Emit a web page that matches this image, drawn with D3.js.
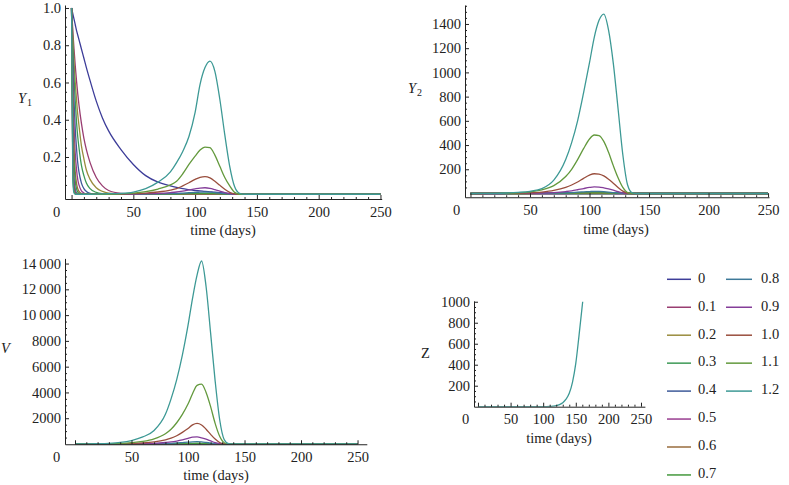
<!DOCTYPE html>
<html><head><meta charset="utf-8">
<script src="https://cdn.jsdelivr.net/npm/d3@7"></script>
</head><body style="margin:0">
<svg id="c" width="789" height="485"></svg>
<script>
// ---------- data ----------
const seriesLabels = ["0","0.1","0.2","0.3","0.4","0.5","0.6","0.7","0.8","0.9","1.0","1.1","1.2"];
const seriesColors = ["#3d3d99","#993d71","#998c3d","#3d9956","#3d5a99","#993d90","#996d3d","#44993d","#3d7999","#843d99","#994e3d","#63993d","#3d9995"];
const xTickValues = [0,50,100,150,200,250];
const y1TickValues = [0.2,0.4,0.6,0.8,1.0];
const y2TickValues = [200,400,600,800,1000,1200,1400];
const vTickValues = [2000,4000,6000,8000,10000,12000,14000];
const zTickValues = [200,400,600,800,1000];

// time grid for Y1
const tY1 = [0,1,2,3,4,5,6,8,10,12,15,20,25,30,40,50,60,70,80,85,90,95,100,104,108,112,116,120,124,128,132,136,140,150,250];
const Y1 = [
 [1,0.97,0.94,0.91,0.88,0.855,0.83,0.78,0.73,0.68,0.61,0.5,0.41,0.34, 0.24,0.16,0.1,0.065,0.045,0.037,0.03,0.025,0.02,0.018,0.015,0.013,0.011,0.008,0.006,0.004,0.003,0.002,0.001,0,0],
 [1,0.88,0.78,0.69,0.61,0.54,0.48,0.38,0.3,0.24,0.17,0.09,0.045,0.02, 0.005,0.002,0.001,0.001,0.001,0.001,0.001,0.001,0.001,0.001,0.001,0.001,0.001,0.001,0,0,0,0,0,0,0],
 [1,0.85,0.71,0.6,0.51,0.43,0.37,0.26,0.19,0.13,0.08,0.035,0.015,0.006, 0.001,0,0,0,0,0,0,0,0,0,0,0,0,0,0,0,0,0,0,0,0],
 [1,0.79,0.63,0.5,0.39,0.31,0.25,0.155,0.1,0.06,0.03,0.01,0.003,0.001, 0,0,0,0,0,0,0,0,0,0,0,0,0,0,0,0,0,0,0,0,0],
 [1,0.7,0.5,0.35,0.25,0.17,0.12,0.06,0.03,0.015,0.005,0.001,0,0, 0,0,0,0,0,0,0,0,0,0,0,0,0,0,0,0,0,0,0,0,0],
 [1,0.6,0.37,0.22,0.135,0.08,0.05,0.018,0.007,0.002,0,0,0,0, 0,0,0,0,0,0,0,0,0,0,0,0,0,0,0,0,0,0,0,0,0],
 [1,0.5,0.25,0.12,0.06,0.03,0.015,0.004,0.001,0,0,0,0,0, 0,0,0,0,0,0,0,0.001,0.001,0.001,0.001,0.001,0.001,0.001,0,0,0,0,0,0,0],
 [1,0.41,0.17,0.07,0.03,0.012,0.005,0.001,0,0,0,0,0,0, 0,0,0,0.001,0.001,0.001,0.002,0.003,0.003,0.004,0.004,0.004,0.003,0.002,0.001,0.001,0,0,0,0,0],
 [1,0.3,0.09,0.03,0.008,0.003,0.001,0,0,0,0,0,0,0, 0,0,0.001,0.002,0.003,0.004,0.006,0.008,0.01,0.011,0.012,0.011,0.009,0.006,0.003,0.001,0,0,0,0,0],
 [1,0.22,0.05,0.012,0.003,0.001,0,0,0,0,0,0,0,0, 0,0.001,0.003,0.005,0.009,0.012,0.017,0.023,0.029,0.033,0.035,0.032,0.025,0.017,0.009,0.003,0,0,0,0,0],
 [1,0.17,0.03,0.005,0.001,0,0,0,0,0,0,0,0,0, 0.001,0.003,0.006,0.012,0.022,0.03,0.045,0.062,0.08,0.091,0.095,0.088,0.07,0.048,0.027,0.01,0.002,0,0,0,0],
 [1,0.12,0.015,0.002,0,0,0,0,0,0,0,0,0,0, 0.002,0.006,0.014,0.028,0.05,0.07,0.11,0.16,0.205,0.237,0.253,0.25,0.21,0.15,0.09,0.045,0.01,0,0,0,0],
 [1,0.08,0.007,0.001,0,0,0,0,0,0,0,0.001,0.002,0.003, 0.005,0.012,0.03,0.065,0.12,0.17,0.23,0.31,0.44,0.59,0.68,0.715,0.66,0.51,0.32,0.15,0.04,0.005,0,0,0]
];

// time grid for Y2 and V
const tLate = [0,10,20,30,40,50,60,70,80,85,90,95,100,104,108,112,116,120,124,128,132,136,140,150,250];
const Y2 = [
 [0,0,0,0,0,0,0,0,0,0,0,0,0,0,0,0,0,0,0,0,0,0,0,0,0],
 [0,0,0,0,0,0,0,0,0,0,0,0,0,0,0,0,0,0,0,0,0,0,0,0,0],
 [0,0,0,0,0,0,0,0,0,0,0,0,0,0,0,0,0,0,0,0,0,0,0,0,0],
 [0,0,0,0,0,0,0,0,0,0,0,0,0,0,0,0,0,0,0,0,0,0,0,0,0],
 [0,0,0,0,0,0,0,0,0,0,0,0,0,0,0,0,0,0,0,0,0,0,0,0,0],
 [0,0,0,0,0,0,0,0,0.1,0.2,0.3,0.4,0.5,0.5,0.5,0.4,0.3,0.2,0.1,0,0,0,0,0,0],
 [0,0,0,0,0,0.1,0.2,0.4,0.7,0.9,1.2,1.5,1.8,1.9,1.9,1.7,1.3,0.9,0.5,0.2,0,0,0,0,0],
 [0,0,0,0,0.1,0.2,0.5,1,2,2.6,3.5,4.5,5.3,5.8,5.6,5,4,2.7,1.5,0.5,0,0,0,0,0],
 [0,0,0,0.1,0.3,0.7,1.5,3,6,8,11,13.5,16,18,17,15,12,8,5,2,0,0,0,0,0],
 [0,0,0.1,0.3,0.8,2,4,8,16,22,31,41,50,54,53,47,38,27,15,6,1,0,0,0,0],
 [0,0.1,0.4,1,2,5,12,25,50,70,95,125,152,163,160,145,118,85,50,20,3,0,0,0,0],
 [0,0.3,1,2.5,6,13,30,65,140,200,280,370,450,483,478,430,340,230,130,50,8,0,0,0,0],
 [0,0.5,1.5,4,9,18,40,110,280,420,600,830,1080,1290,1430,1482,1350,1075,700,320,70,5,0,0,0]
];
const V = [
 [0,0,0,0,0,0,0,0,0,0,0,0,0,0,0,0,0,0,0,0,0,0,0,0,0],
 [0,0,0,0,0,0,0,0,0,0,0,0,0,0,0,0,0,0,0,0,0,0,0,0,0],
 [0,0,0,0,0,0,0,0,0,0,0,0,0,0,0,0,0,0,0,0,0,0,0,0,0],
 [0,0,0,0,0,0,0,0,0,0,0,0,0,0,0,0,0,0,0,0,0,0,0,0,0],
 [0,0,0,0,0,0,0,0,0,0,0,0,0,0,0,0,0,0,0,0,0,0,0,0,0],
 [0,0,0,0,0,0,0,0,1,1,2,3,4,5,6,5,4,2,1,0,0,0,0,0,0],
 [0,0,0,0,0,1,1,2,4,6,8,11,14,18,20,18,13,8,4,1,0,0,0,0,0],
 [0,0,0,0,1,2,4,7,13,18,26,36,46,56,60,53,40,25,12,3,0,0,0,0,0],
 [0,0,0,1,2,5,10,20,40,55,80,110,140,170,180,160,120,75,35,10,0,0,0,0,0],
 [0,0,1,3,7,15,30,55,115,160,230,320,430,530,550,480,370,240,110,30,2,0,0,0,0],
 [0,1,3,8,18,40,80,160,320,450,640,900,1200,1480,1600,1480,1150,750,380,120,10,0,0,0,0],
 [0,2,8,20,45,100,200,400,800,1150,1650,2300,3100,3900,4550,4650,4000,2900,1600,600,100,0,0,0,0],
 [0,5,20,50,120,270,550,1050,2300,3500,5000,6900,9200,11300,13100,14200,12200,8600,4900,1900,350,20,0,0,0]
];
// Z (all series coincide; the last one drawn is visible)
const tZ = [0,50,100,110,115,120,125,130,135,140,145,150,155,160.6];
const Zvals = [0,0,0,2,5,10,20,38,72,128,235,413,680,1000];

// ---------- drawing ----------
const FONT = '"Liberation Serif"';
const INK = "#222";
const svg = d3.select("#c");
const FS = 14.5;

function range(a,b,s){const r=[];for(let v=a;v<=b+1e-9;v+=s)r.push(+v.toFixed(6));return r;}
function fmtV(v){ if(v>=10000){const s=String(v);return s.slice(0,s.length-3)+"\u2009"+s.slice(-3);} return String(v);}
function styleText(sel){ return sel.style("font-family",FONT).style("font-size",FS+"px").style("fill",INK); }

function panel(cfg){
  const g = svg.append("g");
  const x = d3.scaleLinear().domain(cfg.xd).range(cfg.xr);
  const y = d3.scaleLinear().domain(cfg.yd).range(cfg.yr);
  const id = "clip"+cfg.id;
  svg.append("clipPath").attr("id",id).append("rect")
    .attr("x",cfg.xr[0]).attr("y",cfg.yr[1]).attr("width",cfg.xr[1]-cfg.xr[0]).attr("height",cfg.yr[0]-cfg.yr[1]);
  const line = d3.line().x(d=>x(d[0])).y(d=>y(d[1])).curve(d3.curveMonotoneX);
  const lg = g.append("g").attr("clip-path",`url(#${id})`);
  cfg.series.forEach(s=>{
    lg.append("path").attr("d",line(s.t.map((t,i)=>[t,s.v[i]])))
      .attr("fill","none").attr("stroke",s.c).attr("stroke-width",1.3).attr("stroke-linejoin","round");
  });
  // x axis
  const y0 = cfg.yr[0];
  const xMinor = range(10,250,10).filter(v=>v%50!==0);
  g.append("g").attr("transform",`translate(0,${y0})`)
    .call(d3.axisBottom(x).tickValues(xMinor).tickSizeInner(-2).tickSizeOuter(0).tickFormat(""))
    .call(a=>a.select(".domain").remove());
  const xa = g.append("g").attr("transform",`translate(0,${y0})`)
    .call(d3.axisBottom(x).tickValues(xTickValues).tickSizeInner(-4).tickSizeOuter(0).tickPadding(7.5));
  xa.attr("font-family",null).attr("font-size",null);
  styleText(xa.selectAll("text")).attr("dx",d=>d===0?(cfg.xr[0]-9-x(0)):0);
  // y axis
  const x0 = cfg.xr[0];
  g.append("g").attr("transform",`translate(${x0},0)`)
    .call(d3.axisLeft(y).tickValues(cfg.yMinor).tickSizeInner(-2).tickSizeOuter(0).tickFormat(""))
    .call(a=>a.select(".domain").remove());
  const ya = g.append("g").attr("transform",`translate(${x0},0)`)
    .call(d3.axisLeft(y).tickValues(cfg.yTicks).tickSizeInner(-4).tickSizeOuter(0).tickPadding(4).tickFormat(cfg.fmt));
  ya.attr("font-family",null).attr("font-size",null);
  styleText(ya.selectAll("text"));
  svg.selectAll(".domain").attr("stroke",INK);
  svg.selectAll(".tick line").attr("stroke",INK);
  // labels
  styleText(g.append("text")).attr("x",cfg.xl[0]).attr("y",cfg.xl[1]).attr("text-anchor","middle")
    .attr("dominant-baseline","middle").text("time (days)");
  const yt = styleText(g.append("text")).attr("x",cfg.yl[0]).attr("y",cfg.yl[1])
    .attr("dominant-baseline","middle");
  yt.append("tspan").style("font-style",cfg.italic?"italic":"normal").text(cfg.ylab);
  if(cfg.sub) yt.append("tspan").style("font-size","10px").attr("dy",4).attr("dx",1).text(cfg.sub);
}

const allIdx = d3.range(seriesLabels.length);
panel({id:1, xd:[-5.3,251], xr:[65,381.7], yd:[-0.0255,1.016], yr:[199,5],
  yTicks:y1TickValues, yMinor:range(0.05,1.0,0.05).filter(v=>Math.abs(v*5-Math.round(v*5))>1e-6), fmt:d3.format(".1f"),
  series: allIdx.map(i=>({t:tY1,v:Y1[i],c:seriesColors[i]})),
  xl:[223,232], yl:[18,100], ylab:"Y", sub:"1", italic:true});
panel({id:2, xd:[-4.6,250.8], xr:[465,769], yd:[-31,1556], yr:[197.25,5.07],
  yTicks:y2TickValues, yMinor:range(50,1550,50).filter(v=>v%200!==0), fmt:d=>String(d),
  series: allIdx.map(i=>({t:tLate,v:Y2[i],c:seriesColors[i]})),
  xl:[616,231], yl:[408,90], ylab:"Y", sub:"2", italic:true});
panel({id:3, xd:[-8.85,258.2], xr:[65,366.8], yd:[-20,14400], yr:[444.26,258.4],
  yTicks:vTickValues, yMinor:range(500,14000,500).filter(v=>v%2000!==0), fmt:fmtV,
  series: allIdx.map(i=>({t:tLate,v:V[i],c:seriesColors[i]})),
  xl:[216,477], yl:[1,350], ylab:"V", italic:true});
panel({id:4, xd:[-6.1,256], xr:[474,644.9], yd:[0,1008], yr:[406.7,300.9],
  yTicks:zTickValues, yMinor:range(50,1000,50).filter(v=>v%200!==0), fmt:d=>String(d),
  series: [{t:tZ,v:Zvals,c:seriesColors[12]}],
  xl:[559,440], yl:[421,355], ylab:"Z", italic:false});

// legend
const lgd = svg.append("g");
seriesLabels.forEach((lab,i)=>{
  const col = i<8?0:1, row = i<8?i:i-8;
  const lx = col===0?667:726, tx = col===0?698:761;
  const yy = 279.3 + row*27.95;
  lgd.append("line").attr("x1",lx).attr("x2",lx+(col===0?24:26)).attr("y1",yy).attr("y2",yy)
    .attr("stroke",seriesColors[i]).attr("stroke-width",1.5);
  styleText(lgd.append("text")).attr("x",tx).attr("y",yy).attr("dominant-baseline","middle").text(lab);
});
</script>
</body></html>
